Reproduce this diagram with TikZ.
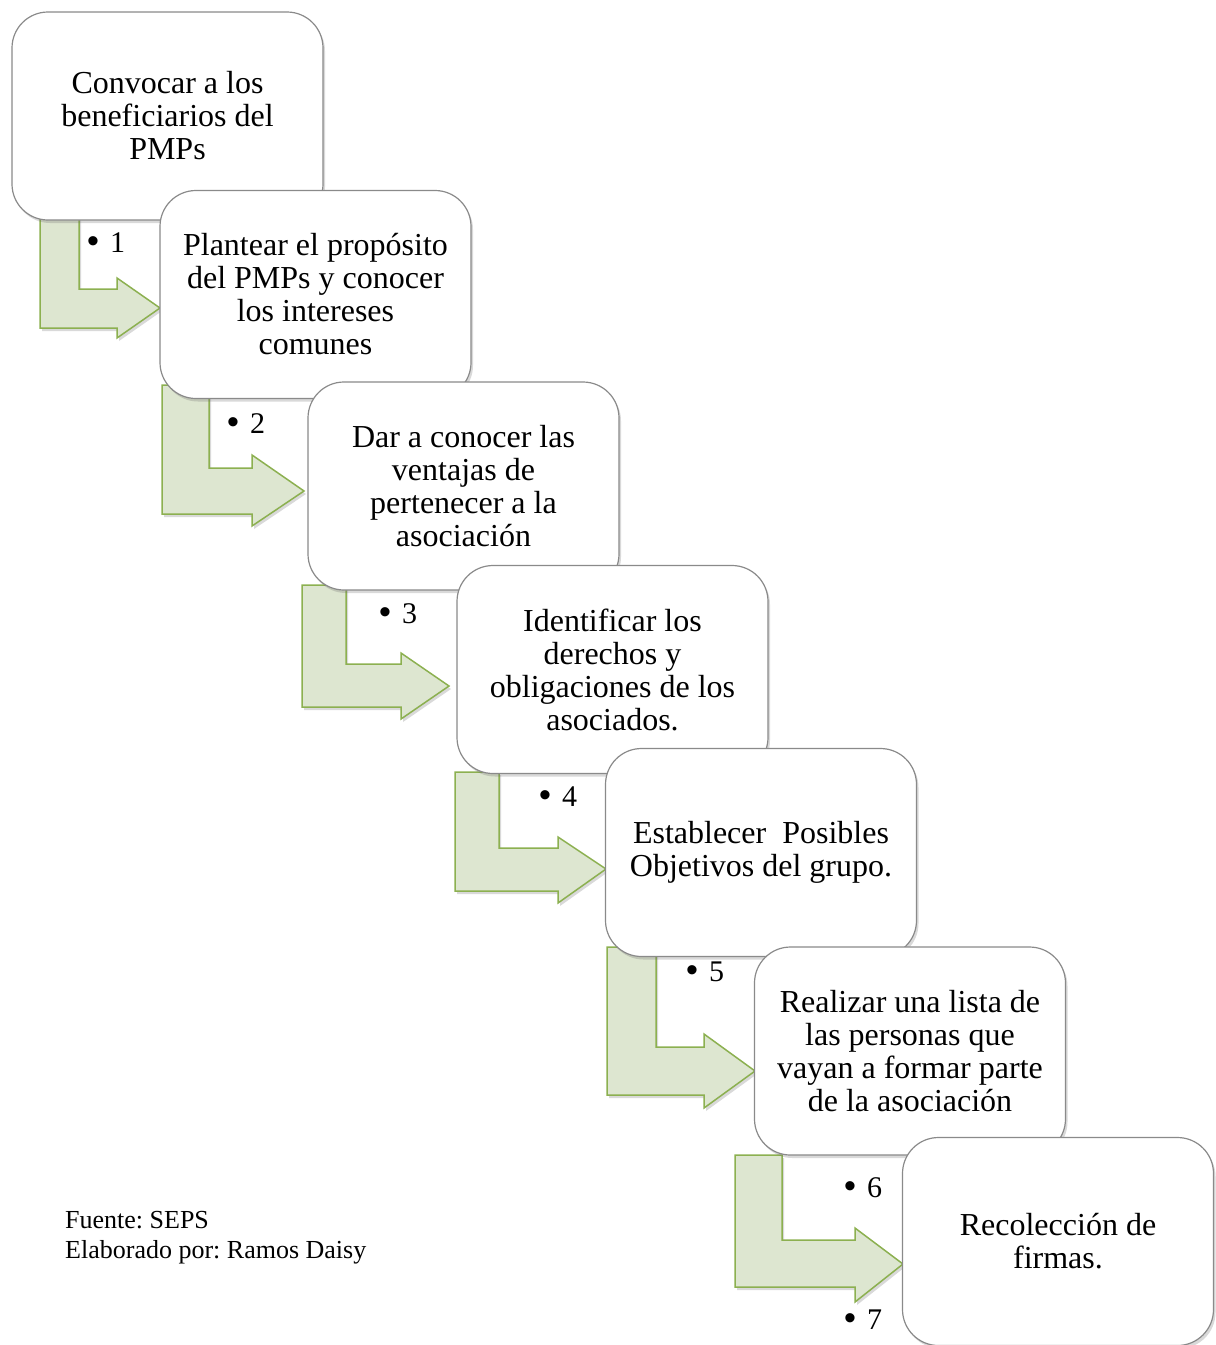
\documentclass[tikz,border=0pt]{standalone}
\usepackage{fontspec}
\setmainfont{Liberation Serif}
\newfontfamily\bulletfont{Liberation Sans}
\usetikzlibrary{shadows}
\definecolor{arrfill}{HTML}{DDE6D0}
\definecolor{arrline}{HTML}{8CB050}
\definecolor{boxline}{HTML}{8A8A8A}
\tikzset{
  stepbox/.style={draw=boxline, line width=1.2pt, fill=white, rounded corners=36pt,
    minimum width=311pt, minimum height=208pt, align=center, inner sep=0pt,
    font=\fontsize{32}{33}\selectfont,
    drop shadow={shadow xshift=2pt, shadow yshift=-3pt, opacity=0.25, fill=black!60}},
  bentarrow/.style={draw=arrline, line width=1.5pt, fill=arrfill, line join=miter,
    drop shadow={shadow xshift=2pt, shadow yshift=-3pt, opacity=0.25, fill=black!60}},
  numlabel/.style={anchor=west, inner sep=0pt, font=\fontsize{30}{32}\selectfont},
  foot/.style={anchor=north west, inner sep=0pt, align=left, font=\fontsize{26}{30}\selectfont}
}
\newcommand{\bentarr}[9]{%
  \path[bentarrow] (#1,#3) -- (#2,#3) -- (#2,#4) -- (#6,#4) -- (#6,#7) -- #9 -- (#6,#8) -- (#6,#5) -- (#1,#5) -- cycle;}
\newcommand{\stepnum}[1]{{\bulletfont\fontsize{34}{34}\selectfont •}\hspace{11pt}#1}
\frenchspacing
\begin{document}
\begin{tikzpicture}[x=1pt,y=-1pt]
\useasboundingbox (0,0) rectangle (1216,1345);
% tip coordinates
\coordinate (t1) at (160,308);
\coordinate (t2) at (304,491);
\coordinate (t3) at (449,686);
\coordinate (t4) at (606,869);
\coordinate (t5) at (755,1071);
\coordinate (t6) at (903,1264);
% arrows
\bentarr{40}{79}{205}{289}{328}{117}{278}{338}{(t1)}
\bentarr{162}{209}{385}{468}{514}{252}{455}{526}{(t2)}
\bentarr{302}{346}{585}{664}{707}{401}{653}{719}{(t3)}
\bentarr{455}{499}{772}{848}{891}{558}{837}{903}{(t4)}
\bentarr{607}{656}{947}{1047}{1095}{704}{1034}{1108}{(t5)}
\bentarr{735}{782}{1155}{1240}{1287}{855}{1228}{1302}{(t6)}
% boxes
\node[stepbox] (b1) at (167.5,116) {Convocar a los\\beneficiarios del\\PMPs};
\node[stepbox] (b2) at (315.5,294.5) {Plantear el propósito\\del PMPs y conocer\\los intereses\\comunes};
\node[stepbox] (b3) at (463.5,486) {Dar a conocer las\\ventajas de\\pertenecer a la\\asociación};
\node[stepbox] (b4) at (612.5,669.5) {Identificar los\\derechos y\\obligaciones de los\\asociados.};
\node[stepbox] (b5) at (761,852.5) {Establecer\ \ Posibles\\Objetivos del grupo.};
\node[stepbox] (b6) at (910,1051) {Realizar una lista de\\las personas que\\vayan a formar parte\\de la asociación};
\node[stepbox] (b7) at (1058,1241.5) {Recolección de\\firmas.};
% numbers
\node[numlabel] (n1) at (87,243) {\stepnum{1}};
\node[numlabel] (n2) at (227,424) {\stepnum{2}};
\node[numlabel] (n3) at (379,614) {\stepnum{3}};
\node[numlabel] (n4) at (539,797) {\stepnum{4}};
\node[numlabel] (n5) at (686,972) {\stepnum{5}};
\node[numlabel] (n6) at (844,1188) {\stepnum{6}};
\node[numlabel] (n7) at (844,1320) {\stepnum{7}};
% footer
\node[foot] (src) at (65,1211) {Fuente: SEPS\\Elaborado por: Ramos Daisy};
\end{tikzpicture}
\end{document}
